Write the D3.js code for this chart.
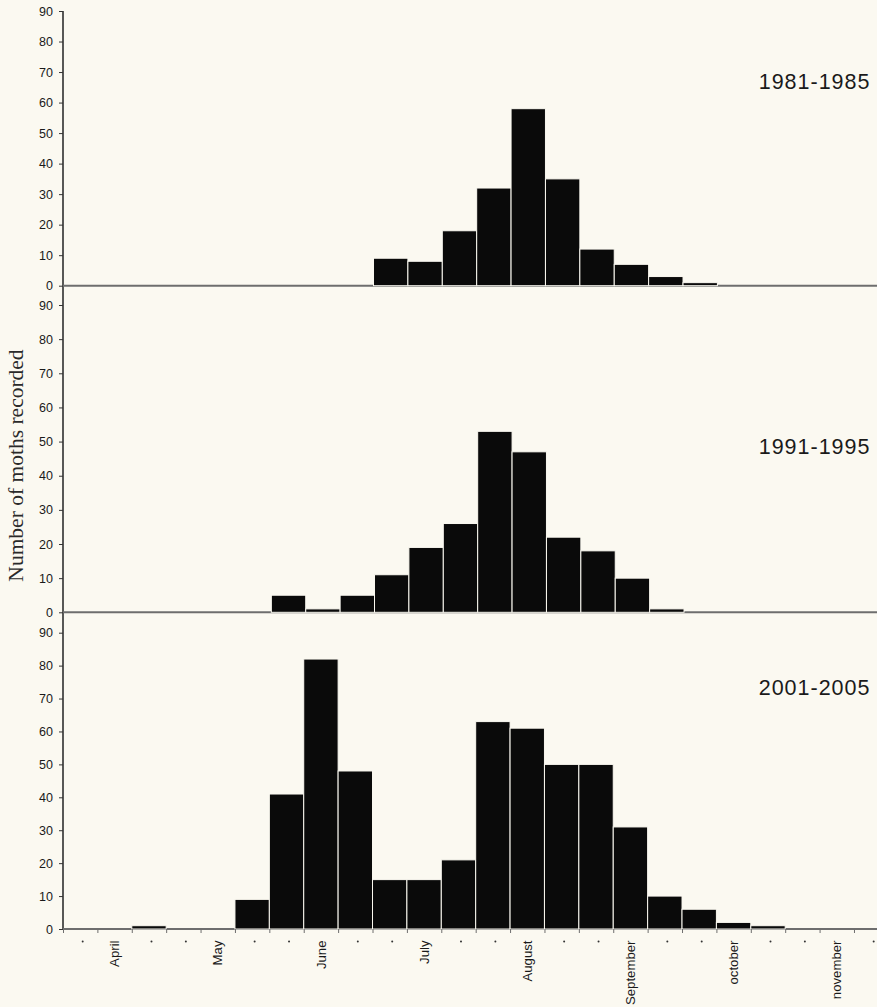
<!DOCTYPE html>
<html>
<head>
<meta charset="utf-8">
<script src="https://cdn.jsdelivr.net/npm/d3@7"></script>
<style>
  html, body { margin: 0; padding: 0; background: #fbf9f1; }
  svg { display: block; }
</style>
</head>
<body>
<div id="chart"></div>
<script>
// ten-day periods, three per month, April .. November
const months = ["April", "May", "June", "July", "August", "September", "october", "november"];

const counts1981 = [0, 0, 0, 0, 0, 0, 0, 0, 0, 9, 8, 18, 32, 58, 35, 12, 7, 3, 1, 0, 0, 0, 0, 0];
const counts1991 = [0, 0, 0, 0, 0, 0, 5, 1, 5, 11, 19, 26, 53, 47, 22, 18, 10, 1, 0, 0, 0, 0, 0, 0];
const counts2001 = [0, 0, 1, 0, 0, 9, 41, 82, 48, 15, 15, 21, 63, 61, 50, 50, 31, 10, 6, 2, 1, 0, 0, 0];

const periodLabels = ["1981-1985", "1991-1995", "2001-2005"];
const yTicks = [0, 10, 20, 30, 40, 50, 60, 70, 80, 90];

const width = 877;
const height = 1007;
const bg = "#fbf9f1";
const sans = "'Liberation Sans', Arial, Helvetica, sans-serif";

const panels = [
  { label: periodLabels[0], data: counts1981, top: 11, zero: 285.7, labelY: 89, dx: 1 },
  { label: periodLabels[1], data: counts1991, top: 305, zero: 612.3, labelY: 454, dx: 2 },
  { label: periodLabels[2], data: counts2001, top: 632.7, zero: 929, labelY: 695, dx: 0 },
];

const nBins = months.length * 3;
const x0 = 63;
const step = 34.39;

const x = d3.scaleBand()
  .domain(d3.range(nBins))
  .range([x0, x0 + nBins * step])
  .padding(0);

// bin edges for the tick marks on the bottom axis
const xEdge = d3.scaleLinear().domain([0, nBins]).range([x0, x0 + nBins * step]);

const svg = d3.select("#chart")
  .append("svg")
  .attr("width", width)
  .attr("height", height)
  .style("background", bg);

// long left axis line through all three panels
svg.append("line")
  .attr("x1", x0).attr("x2", x0)
  .attr("y1", panels[0].top).attr("y2", panels[2].zero)
  .attr("stroke", "#222")
  .attr("stroke-width", 1.5);

panels.forEach((p, idx) => {
  const y = d3.scaleLinear().domain([0, 90]).range([p.zero, p.top]);

  const g = svg.append("g");

  // baseline
  g.append("line")
    .attr("x1", x0).attr("x2", width)
    .attr("y1", p.zero).attr("y2", p.zero)
    .attr("stroke", "#6e6e6e")
    .attr("stroke-width", 2);

  g.selectAll("rect.bar")
    .data(p.data.map((v, i) => ({ v, i })).filter((d) => d.v > 0))
    .join("rect")
    .attr("class", "bar")
    .attr("x", (d) => x(d.i) + p.dx)
    .attr("width", x.bandwidth())
    .attr("y", (d) => y(d.v))
    .attr("height", (d) => y(0) - y(d.v))
    .attr("fill", "#0a0a0a")
    .attr("stroke", bg)
    .attr("stroke-width", 1);

  const yAxis = g.append("g")
    .attr("transform", `translate(${x0},0)`)
    .call(d3.axisLeft(y).tickValues(yTicks).tickSize(4).tickPadding(6));
  yAxis.select(".domain").remove();
  yAxis.selectAll("line").attr("stroke", "#333");
  yAxis.selectAll("text")
    .style("font-family", sans)
    .style("font-size", "12.5px")
    .attr("fill", "#1a1a1a");

  g.append("text")
    .attr("x", 870.5)
    .attr("y", p.labelY)
    .attr("text-anchor", "end")
    .style("font-family", sans)
    .style("font-size", "21.5px")
    .style("letter-spacing", "1px")
    .attr("fill", "#1a1a1a")
    .text(p.label);

  if (idx === panels.length - 1) {
    // edge ticks
    const edges = svg.append("g")
      .attr("transform", `translate(0,${p.zero})`)
      .call(d3.axisBottom(xEdge).tickValues(d3.range(nBins + 1)).tickSize(4).tickFormat(""));
    edges.select(".domain").remove();
    edges.selectAll("line").attr("stroke", "#6e6e6e").attr("stroke-width", 1);

    // month names in the middle period of each month
    const labelled = d3.range(nBins).filter((i) => i % 3 === 1);
    const xAxis = svg.append("g")
      .attr("transform", `translate(0,${p.zero})`)
      .call(d3.axisBottom(x).tickSize(0).tickValues(labelled)
        .tickFormat((i) => months[Math.floor(i / 3)]));
    xAxis.select(".domain").remove();
    xAxis.selectAll("text")
      .attr("transform", "rotate(-90)")
      .attr("x", -11.5)
      .attr("y", 0)
      .attr("dy", "0.35em")
      .style("text-anchor", "end")
      .style("font-family", sans)
      .style("font-size", "13.2px")
      .attr("fill", "#1a1a1a");

    // small dots marking the other periods
    svg.append("g")
      .selectAll("circle")
      .data(d3.range(nBins).filter((i) => i % 3 !== 1))
      .join("circle")
      .attr("cx", (i) => x(i) + x.bandwidth() / 2 + 2.5)
      .attr("cy", p.zero + 12.5)
      .attr("r", 1)
      .attr("fill", "#333");
  }
});

svg.append("text")
  .attr("transform", "translate(23,465.5) rotate(-90)")
  .attr("text-anchor", "middle")
  .style("font-family", "'Liberation Serif', 'Times New Roman', serif")
  .style("font-size", "21.5px")
  .attr("fill", "#2a2a2a")
  .text("Number of moths recorded");
</script>
</body>
</html>
